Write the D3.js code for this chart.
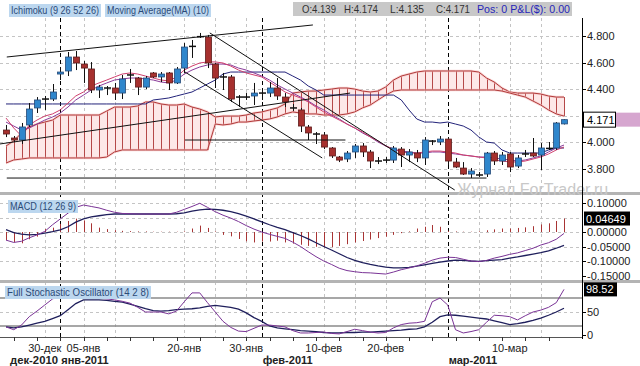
<!DOCTYPE html>
<html>
<head>
<meta charset="utf-8">
<script src="https://cdn.jsdelivr.net/npm/d3@7"></script>
<style>
  body { margin: 0; background: #fff; }
  svg text { font-family: "Liberation Sans", Arial, sans-serif; }
</style>
</head>
<body>
<script>
//Daily candles, oldest first (prices).
var open  = [4.093,4.033,4.018,4.131,4.259,4.319,4.326,4.514,4.537,4.642,4.589,4.552,4.394,4.416,4.409,4.371,4.499,4.484,4.416,4.522,4.492,4.522,4.447,4.559,4.717,4.800,4.792,4.589,4.490,4.492,4.334,4.341,4.349,4.371,4.371,4.409,4.341,4.266,4.244,4.116,4.063,4.056,3.958,3.890,3.875,3.928,3.973,3.928,3.867,3.860,3.867,3.950,3.905,3.920,3.883,4.003,4.003,4.025,3.852,3.807,3.762,3.760,3.762,3.920,3.860,3.913,3.822,3.905,3.920,3.905,3.958,3.958,4.139];
var high  = [4.131,4.048,4.146,4.296,4.341,4.349,4.439,4.567,4.680,4.687,4.612,4.604,4.432,4.424,4.447,4.507,4.552,4.492,4.499,4.529,4.529,4.529,4.567,4.747,4.770,4.823,4.808,4.597,4.522,4.507,4.356,4.371,4.447,4.394,4.454,4.484,4.371,4.289,4.259,4.131,4.078,4.078,3.965,3.898,3.935,3.988,3.995,3.943,3.890,3.890,3.973,3.965,3.950,3.943,4.040,4.018,4.048,4.040,3.883,3.852,3.807,3.777,3.928,3.935,3.928,3.928,3.905,3.943,4.033,3.995,4.003,4.153,4.174];
var low   = [4.040,4.003,3.988,4.116,4.221,4.244,4.311,4.469,4.499,4.544,4.447,4.371,4.334,4.356,4.319,4.326,4.447,4.356,4.401,4.484,4.454,4.394,4.439,4.522,4.635,4.785,4.559,4.409,4.394,4.304,4.266,4.319,4.281,4.319,4.341,4.319,4.266,4.236,4.078,4.018,3.988,3.950,3.883,3.852,3.852,3.883,3.890,3.807,3.837,3.845,3.845,3.815,3.852,3.852,3.830,3.980,3.980,3.830,3.807,3.755,3.732,3.740,3.740,3.830,3.830,3.777,3.807,3.890,3.890,3.792,3.943,3.943,4.135];
var close = [4.063,4.018,4.116,4.251,4.319,4.326,4.379,4.529,4.642,4.597,4.559,4.394,4.416,4.409,4.371,4.477,4.507,4.416,4.484,4.492,4.514,4.447,4.552,4.717,4.722,4.795,4.597,4.484,4.492,4.326,4.341,4.341,4.371,4.371,4.409,4.349,4.304,4.259,4.123,4.071,4.063,3.965,3.898,3.867,3.920,3.973,3.928,3.860,3.860,3.867,3.958,3.905,3.928,3.883,4.018,4.010,4.025,3.860,3.815,3.762,3.785,3.755,3.920,3.860,3.905,3.815,3.883,3.913,3.898,3.958,3.955,4.146,4.171];

//Ichimoku (9 26 52 26) lines and cloud spans.
var tenkan = [4.183,4.108,4.048,4.131,4.168,4.198,4.214,4.244,4.296,4.349,4.379,4.424,4.447,4.469,4.492,4.514,4.522,4.514,4.499,4.484,4.469,4.462,4.492,4.544,4.574,4.597,4.605,4.605,4.597,4.574,4.544,4.522,4.507,4.492,4.454,4.417,4.379,4.356,4.334,4.304,4.266,4.229,4.198,4.168,4.138,4.108,4.078,4.041,4.011,3.973,3.950,3.928,3.920,3.920,3.928,3.935,3.935,3.928,3.920,3.905,3.898,3.890,3.883,3.868,3.860,3.853,3.853,3.860,3.875,3.890,3.913,3.943,3.965];
var kijun  = [4.289,4.289,4.289,4.289,4.289,4.289,4.289,4.289,4.289,4.289,4.289,4.289,4.289,4.289,4.289,4.289,4.289,4.289,4.289,4.319,4.326,4.334,4.349,4.364,4.379,4.409,4.439,4.469,4.514,4.529,4.529,4.529,4.529,4.529,4.529,4.529,4.529,4.499,4.469,4.424,4.394,4.356,4.356,4.356,4.356,4.356,4.356,4.356,4.356,4.356,4.356,4.319,4.244,4.176,4.153,4.153,4.146,4.153,4.138,4.123,4.093,4.041,4.003,3.995,3.943,3.920,3.920,3.920,3.920,3.920,3.943,3.958,3.958];
var spanA  = [3.973,4.011,4.071,4.116,4.138,4.153,4.168,4.206,4.206,4.206,4.206,4.206,4.206,4.236,4.266,4.266,4.266,4.274,4.304,4.304,4.289,4.281,4.281,4.289,4.266,4.251,4.229,4.191,4.198,4.198,4.198,4.206,4.221,4.229,4.244,4.259,4.289,4.371,4.379,4.386,4.386,4.394,4.401,4.409,4.409,4.401,4.386,4.379,4.386,4.417,4.469,4.499,4.514,4.529,4.537,4.537,4.537,4.537,4.537,4.537,4.537,4.529,4.484,4.454,4.409,4.379,4.371,4.371,4.371,4.364,4.349,4.341,4.341];
var spanB  = [3.845,3.868,3.875,3.883,3.883,3.883,3.883,3.883,3.883,3.883,3.883,3.883,3.883,3.890,3.928,3.943,3.943,3.943,3.943,3.943,3.943,3.943,3.943,3.943,3.943,3.943,3.943,4.138,4.131,4.138,4.153,4.153,4.161,4.168,4.176,4.191,4.214,4.229,4.221,4.214,4.214,4.206,4.206,4.206,4.214,4.229,4.259,4.281,4.319,4.356,4.386,4.394,4.394,4.394,4.394,4.394,4.394,4.394,4.394,4.394,4.394,4.394,4.394,4.394,4.386,4.371,4.356,4.341,4.311,4.281,4.244,4.214,4.198];

//Moving Average(MA) (10).
var ma10 = [4.153,4.123,4.093,4.108,4.138,4.168,4.191,4.221,4.266,4.319,4.356,4.394,4.424,4.447,4.469,4.477,4.484,4.484,4.477,4.469,4.454,4.447,4.469,4.514,4.544,4.567,4.582,4.589,4.589,4.582,4.559,4.544,4.522,4.499,4.469,4.432,4.401,4.371,4.341,4.311,4.274,4.244,4.206,4.176,4.138,4.108,4.071,4.041,4.003,3.973,3.950,3.935,3.928,3.920,3.920,3.928,3.928,3.920,3.913,3.905,3.898,3.890,3.890,3.883,3.875,3.868,3.860,3.868,3.883,3.898,3.928,3.958,3.980];

//MACD (12 26 9).
var macdLine   = [-0.028,-0.036,-0.032,-0.020,-0.010,0.002,0.025,0.045,0.065,0.085,0.093,0.088,0.083,0.075,0.068,0.064,0.063,0.062,0.062,0.062,0.062,0.062,0.068,0.078,0.088,0.099,0.085,0.070,0.058,0.048,0.036,0.022,0.010,0.000,-0.008,-0.015,-0.022,-0.035,-0.050,-0.068,-0.085,-0.100,-0.112,-0.125,-0.133,-0.137,-0.140,-0.141,-0.143,-0.145,-0.138,-0.130,-0.124,-0.117,-0.108,-0.097,-0.090,-0.087,-0.088,-0.094,-0.100,-0.102,-0.098,-0.090,-0.084,-0.077,-0.072,-0.064,-0.056,-0.045,-0.037,-0.025,-0.005];
var macdSignal = [0.008,-0.002,-0.007,-0.010,-0.008,-0.004,0.001,0.007,0.018,0.034,0.045,0.052,0.056,0.060,0.062,0.062,0.062,0.062,0.062,0.062,0.062,0.062,0.063,0.066,0.072,0.076,0.079,0.078,0.075,0.070,0.063,0.055,0.045,0.035,0.025,0.016,0.008,-0.002,-0.012,-0.024,-0.037,-0.050,-0.062,-0.075,-0.088,-0.098,-0.106,-0.112,-0.117,-0.121,-0.124,-0.124,-0.122,-0.118,-0.113,-0.108,-0.104,-0.100,-0.097,-0.098,-0.100,-0.101,-0.099,-0.097,-0.095,-0.090,-0.086,-0.081,-0.076,-0.071,-0.065,-0.056,-0.046];
var macdHist   = [-0.028,-0.035,-0.039,-0.025,-0.016,0.010,0.015,0.028,0.038,0.046,0.040,0.030,0.015,0.010,0.006,0.004,0.003,0.002,0.002,0.001,0.001,0.001,0.001,0.002,0.012,0.022,0.014,0.002,-0.010,-0.015,-0.024,-0.032,-0.036,-0.033,-0.033,-0.030,-0.036,-0.040,-0.044,-0.048,-0.051,-0.053,-0.052,-0.048,-0.042,-0.036,-0.031,-0.026,-0.021,-0.016,-0.010,-0.004,0.002,0.012,0.018,0.024,0.018,0.004,0.002,0.001,0.001,0.002,0.006,0.009,0.012,0.012,0.014,0.016,0.020,0.026,0.030,0.038,0.04649];

//Full Stochastic Oscillator (14 2 8).
var stochK = [18,12,22,40,52,65,78,84,88,92,96,88,80,78,76,73,69,60,50,50,50,46,52,72,91,91,70,50,30,17,9,8,15,22,22,20,18,10,5,5,6,7,4,3,8,13,10,7,5,6,16,23,26,27,30,72,80,65,12,5,8,12,28,43,42,40,33,42,50,54,60,70,98.52];
var stochD = [18,16,18,22,26,30,36,42,55,68,76,76,76,75,73,71,67,62,57,53,52,53,55,56,57,59,62,64,62,60,56,48,38,30,20,16,14,12,10,9,8,6,5,5,6,6,7,7,8,9,10,11,13,14,18,28,40,44,43,41,39,37,35,31,27,23,25,28,32,37,43,50,58];

//Time axis: candle numbers that carry day labels, month starts, grid lines.
var dayTickIdx = [6, 11, 24, 32, 42, 50, 66];
var dayTickText = ["30-дек", "05-янв", "20-янв", "30-янв", "10-фев", "20-фев", "10-мар"];
var monthIdx = [8, 34, 58];
var monthText = ["янв-2011", "фев-2011", "мар-2011"];
var gridIdx = [6, 11, 15, 24, 28, 32, 42, 46, 50, 55, 62, 66, 70];

//Value axis ticks for each panel.
var priceTicks = [4.8, 4.6, 4.4, 4.0, 3.8];
var priceGrid = [4.8, 4.6, 4.4, 4.2, 4.0, 3.8];
var macdTicks = [0.1, 0.0, -0.05, -0.1, -0.15];
var stochTicks = [50, 0];

//Hand-drawn trend lines (candle number, price).
var trendLines = [
  [1.1, 4.642, 40.6, 4.883],
  [0.2, 3.988, 45.4, 4.371],
  [24.1, 4.018, 44.8, 4.018],
  [1.1, 3.732, 63.0, 3.732],
  [27.3, 4.823, 58.9, 3.642],
  [24.1, 4.529, 41.8, 3.883]
];

//Last bar readout.
var lastOHLC = ["O:4.139", "H:4.174", "L:4.135", "C:4.171"];

function mainFunction() {

  var width = 640, height = 366;
  var axisX = 582;

  var svg = d3.select("body").append("svg").attr("width", width).attr("height", height);

  //Panel extents.
  var mainTop = 18, mainBottom = 192;
  var macdTop = 196, macdBottom = 280;
  var stochTop = 284, stochBottom = 337;

  //Scales.
  var x = d3.scaleLinear().domain([1, open.length]).range([6, 564]);
  var yMain = d3.scaleLinear().domain([3.8, 4.8]).range([169, 36]);
  var yMacd = d3.scaleLinear().domain([-0.15, 0.1]).range([275.5, 203]);
  var yStoch = d3.scaleLinear().domain([0, 100]).range([335.3, 288.7]);

  //Clip paths so that lines stay inside their panel.
  var defs = svg.append("defs");
  [["clipMain", mainTop, mainBottom], ["clipMacd", macdTop, macdBottom], ["clipStoch", stochTop, stochBottom]].forEach(function(c) {
    defs.append("clipPath").attr("id", c[0]).append("rect")
      .attr("x", 0).attr("y", c[1]).attr("width", axisX).attr("height", c[2] - c[1]);
  });

  var gridG = svg.append("g");

  //Horizontal light grid.
  function hGrid(vals, scale) {
    gridG.selectAll(null).data(vals).enter().append("line")
      .attr("x1", 0).attr("x2", axisX)
      .attr("y1", function(d) { return Math.round(scale(d)) + 0.5; })
      .attr("y2", function(d) { return Math.round(scale(d)) + 0.5; })
      .attr("stroke", "#c4c4c4").attr("stroke-dasharray", "3,3");
  }
  hGrid(priceGrid, yMain);
  hGrid([0.1, 0.05, 0.0, -0.05, -0.1], yMacd);
  hGrid([50], yStoch);

  //Vertical light grid.
  gridG.selectAll(null).data(gridIdx).enter().append("line")
    .attr("x1", function(d) { return Math.round(x(d)) + 0.5; })
    .attr("x2", function(d) { return Math.round(x(d)) + 0.5; })
    .attr("y1", mainTop).attr("y2", stochBottom)
    .attr("stroke", "#c4c4c4").attr("stroke-dasharray", "3,3");

  //Month boundaries, black dashed.
  gridG.selectAll(null).data(monthIdx).enter().append("line")
    .attr("x1", function(d) { return Math.round(x(d)) + 0.5; })
    .attr("x2", function(d) { return Math.round(x(d)) + 0.5; })
    .attr("y1", mainTop).attr("y2", stochBottom)
    .attr("stroke", "#000").attr("stroke-dasharray", "4,3");

  //---------------- Main panel ----------------
  var main = svg.append("g").attr("clip-path", "url(#clipMain)");

  //Ichimoku cloud fill.
  var cloud = d3.area()
    .x(function(d, i) { return x(i + 1); })
    .y0(function(d, i) { return yMain(spanB[i]); })
    .y1(function(d) { return yMain(d); });
  main.append("path").datum(spanA).attr("d", cloud).attr("fill", "#fde8e8");

  //Cloud hatching.
  main.selectAll(".hatch").data(spanA).enter().append("line")
    .attr("x1", function(d, i) { return Math.round(x(i + 1)) + 0.5; })
    .attr("x2", function(d, i) { return Math.round(x(i + 1)) + 0.5; })
    .attr("y1", function(d) { return yMain(d); })
    .attr("y2", function(d, i) { return yMain(spanB[i]); })
    .attr("stroke", "#b54848").attr("stroke-width", 1);

  //Cloud edges with a soft pink halo.
  [spanA, spanB].forEach(function(span) {
    var edge = d3.line().x(function(d, i) { return x(i + 1); }).y(function(d) { return yMain(d); });
    main.append("path").datum(span).attr("d", edge).attr("fill", "none")
      .attr("stroke", "#f7bcbc").attr("stroke-width", 2.5).attr("opacity", 0.6);
    main.append("path").datum(span).attr("d", edge).attr("fill", "none")
      .attr("stroke", "#b03a3a").attr("stroke-width", 1);
  });

  //Indicator lines.
  function seriesLine(g, vals, scale, color, w) {
    var ln = d3.line().x(function(d, i) { return x(i + 1); }).y(function(d) { return scale(d); });
    g.append("path").datum(vals).attr("d", ln).attr("fill", "none")
      .attr("stroke", color).attr("stroke-width", w);
  }
  seriesLine(main, kijun, yMain, "#23237a", 1);
  seriesLine(main, ma10, yMain, "#8a3c9a", 1);
  seriesLine(main, tenkan, yMain, "#d0406e", 1);

  //Candles.
  var candles = main.selectAll(".candle").data(open).enter().append("g");

  candles.append("line")
    .attr("x1", function(d, i) { return Math.round(x(i + 1)) + 0.5; })
    .attr("x2", function(d, i) { return Math.round(x(i + 1)) + 0.5; })
    .attr("y1", function(d, i) { return yMain(high[i]); })
    .attr("y2", function(d, i) { return yMain(low[i]); })
    .attr("stroke", "#111");

  candles.each(function(d, i) {
    var g = d3.select(this);
    var cx = Math.round(x(i + 1)) + 0.5;
    var yo = yMain(open[i]), yc = yMain(close[i]);
    if (Math.abs(yo - yc) < 1.5) {
      //Doji: a flat bar.
      g.append("line").attr("x1", cx - 3.5).attr("x2", cx + 3.5)
        .attr("y1", yc).attr("y2", yc).attr("stroke", "#111").attr("stroke-width", 1.5);
    } else {
      var up = close[i] > open[i];
      g.append("rect").attr("x", cx - 3).attr("width", 6)
        .attr("y", Math.min(yo, yc)).attr("height", Math.abs(yo - yc))
        .attr("fill", up ? "#2f86cc" : "#a6302e")
        .attr("stroke", up ? "#264a78" : "#5c1c1c").attr("stroke-width", 0.8);
    }
  });

  //Trend lines.
  main.selectAll(".trend").data(trendLines).enter().append("line")
    .attr("x1", function(d) { return x(d[0]); })
    .attr("y1", function(d) { return yMain(d[1]); })
    .attr("x2", function(d) { return x(d[2]); })
    .attr("y2", function(d) { return yMain(d[3]); })
    .attr("stroke", "#111").attr("stroke-width", 1);

  //---------------- MACD panel ----------------
  var macdG = svg.append("g").attr("clip-path", "url(#clipMacd)");

  macdG.selectAll(".bar").data(macdHist).enter().append("line")
    .attr("x1", function(d, i) { return Math.round(x(i + 1)) + 0.5; })
    .attr("x2", function(d, i) { return Math.round(x(i + 1)) + 0.5; })
    .attr("y1", yMacd(0))
    .attr("y2", function(d) { return yMacd(d); })
    .attr("stroke", "#a83434").attr("stroke-width", 1);

  seriesLine(macdG, macdSignal, yMacd, "#1f1f5c", 1.3);
  seriesLine(macdG, macdLine, yMacd, "#7a3496", 1);

  //---------------- Stochastic panel ----------------
  var stochG = svg.append("g").attr("clip-path", "url(#clipStoch)");

  stochG.selectAll(".lvl").data([80, 20]).enter().append("line")
    .attr("x1", 0).attr("x2", axisX)
    .attr("y1", function(d) { return yStoch(d); })
    .attr("y2", function(d) { return yStoch(d); })
    .attr("stroke", "#8a8a8a").attr("stroke-width", 1.5);

  seriesLine(stochG, stochD, yStoch, "#1f1f5c", 1.3);
  seriesLine(stochG, stochK, yStoch, "#7a3496", 1);

  //Panel separators.
  svg.selectAll(".sep").data([mainBottom, macdBottom]).enter().append("rect")
    .attr("x", 0).attr("width", width).attr("y", function(d) { return d; }).attr("height", 3)
    .attr("fill", "#b4b4b4");

  //Watermark.
  svg.append("text").attr("x", 457).attr("y", 195)
    .attr("font-size", 16).attr("fill", "#c8c8c8").text("Журнал ForTrader.ru");

  //---------------- Right value axis ----------------
  svg.append("line").attr("x1", axisX + 0.5).attr("x2", axisX + 0.5)
    .attr("y1", mainTop).attr("y2", stochBottom + 2).attr("stroke", "#000");

  function axisLabels(vals, scale, fmt) {
    var g = svg.append("g");
    g.selectAll("line").data(vals).enter().append("line")
      .attr("x1", axisX).attr("x2", axisX + 4)
      .attr("y1", function(d) { return Math.round(scale(d)) + 0.5; })
      .attr("y2", function(d) { return Math.round(scale(d)) + 0.5; })
      .attr("stroke", "#000");
    g.selectAll("text").data(vals).enter().append("text")
      .attr("x", axisX + 5).attr("y", function(d) { return scale(d) + 4; })
      .attr("font-size", 11).attr("fill", "#222")
      .text(function(d) { return fmt(d); });
  }
  axisLabels(priceTicks, yMain, d3.format(".3f"));
  axisLabels(macdTicks, yMacd, function(d) { return d3.format(".5f")(d).replace("−", "-"); });
  axisLabels(stochTicks, yStoch, d3.format("d"));

  //Current value markers.
  var lastClose = close[close.length - 1];
  svg.append("rect").attr("x", 615).attr("y", yMain(lastClose) - 7).attr("width", 25).attr("height", 14).attr("fill", "#d6a6cf");
  svg.append("rect").attr("x", 583.5).attr("y", yMain(lastClose) - 7.5).attr("width", 32).attr("height", 15)
    .attr("fill", "#fff").attr("stroke", "#000");
  svg.append("text").attr("x", 587).attr("y", yMain(lastClose) + 4).attr("font-size", 11).attr("fill", "#000")
    .text(d3.format(".3f")(lastClose));

  var lastHist = macdHist[macdHist.length - 1];
  svg.append("rect").attr("x", 584).attr("y", yMacd(lastHist) - 7).attr("width", 46).attr("height", 14).attr("fill", "#000");
  svg.append("text").attr("x", 586).attr("y", yMacd(lastHist) + 4).attr("font-size", 11).attr("fill", "#fff")
    .text(d3.format(".5f")(lastHist));

  var lastK = stochK[stochK.length - 1];
  svg.append("rect").attr("x", 584).attr("y", yStoch(lastK) - 7).attr("width", 33).attr("height", 14).attr("fill", "#000");
  svg.append("text").attr("x", 586).attr("y", yStoch(lastK) + 4).attr("font-size", 11).attr("fill", "#fff")
    .text(d3.format(".2f")(lastK));

  //---------------- Time axis ----------------
  svg.append("line").attr("x1", 0).attr("x2", axisX).attr("y1", stochBottom + 0.5).attr("y2", stochBottom + 0.5)
    .attr("stroke", "#555");
  svg.selectAll(".tk").data(d3.range(2, open.length, 3)).enter().append("line")
    .attr("x1", function(d) { return Math.round(x(d)) + 0.5; })
    .attr("x2", function(d) { return Math.round(x(d)) + 0.5; })
    .attr("y1", stochBottom).attr("y2", stochBottom + 4)
    .attr("stroke", "#333");

  svg.selectAll(".day").data(dayTickIdx).enter().append("text")
    .attr("x", function(d) { return x(d); }).attr("y", 352)
    .attr("text-anchor", "middle").attr("font-size", 11).attr("fill", "#222")
    .text(function(d, i) { return dayTickText[i]; });

  svg.append("text").attr("x", 10).attr("y", 364).attr("font-size", 11).attr("font-weight", "bold")
    .attr("fill", "#222").attr("textLength", 48).attr("lengthAdjust", "spacingAndGlyphs").text("дек-2010");
  svg.selectAll(".month").data(monthIdx).enter().append("text")
    .attr("x", function(d) { return x(d) + 1; }).attr("y", 364)
    .attr("font-size", 11).attr("font-weight", "bold").attr("fill", "#222")
    .text(function(d, i) { return monthText[i]; });

  //---------------- Labels ----------------
  function tagBox(tx, ty, w, label) {
    svg.append("rect").attr("x", tx).attr("y", ty).attr("width", w).attr("height", 13).attr("fill", "#bcd7ef");
    svg.append("text").attr("x", tx + 2).attr("y", ty + 10).attr("font-size", 10).attr("fill", "#2b4a78")
      .attr("textLength", w - 4).attr("lengthAdjust", "spacingAndGlyphs").text(label);
  }
  tagBox(9, 4, 92, "Ichimoku (9 26 52 26)");
  tagBox(105, 4, 106, "Moving Average(MA) (10)");
  tagBox(8, 200, 70, "MACD (12 26 9)");
  tagBox(5, 286, 146, "Full Stochastic Oscillator (14 2 8)");

  //OHLC readout.
  svg.append("rect").attr("x", 293).attr("y", 2).attr("width", 279).attr("height", 14).attr("fill", "#c8c8c8");
  var ohlcX = [302, 344, 390, 436];
  svg.selectAll(".ohlc").data(lastOHLC).enter().append("text")
    .attr("x", function(d, i) { return ohlcX[i]; }).attr("y", 13)
    .attr("font-size", 11).attr("fill", "#333")
    .attr("textLength", 34).attr("lengthAdjust", "spacingAndGlyphs").text(function(d) { return d; });
  svg.append("text").attr("x", 477).attr("y", 13).attr("font-size", 11).attr("fill", "#2626b8")
    .attr("textLength", 93).attr("lengthAdjust", "spacingAndGlyphs").text("Pos: 0 P&L($): 0.00");

};//End of Main Function.

mainFunction();
</script>
</body>
</html>
